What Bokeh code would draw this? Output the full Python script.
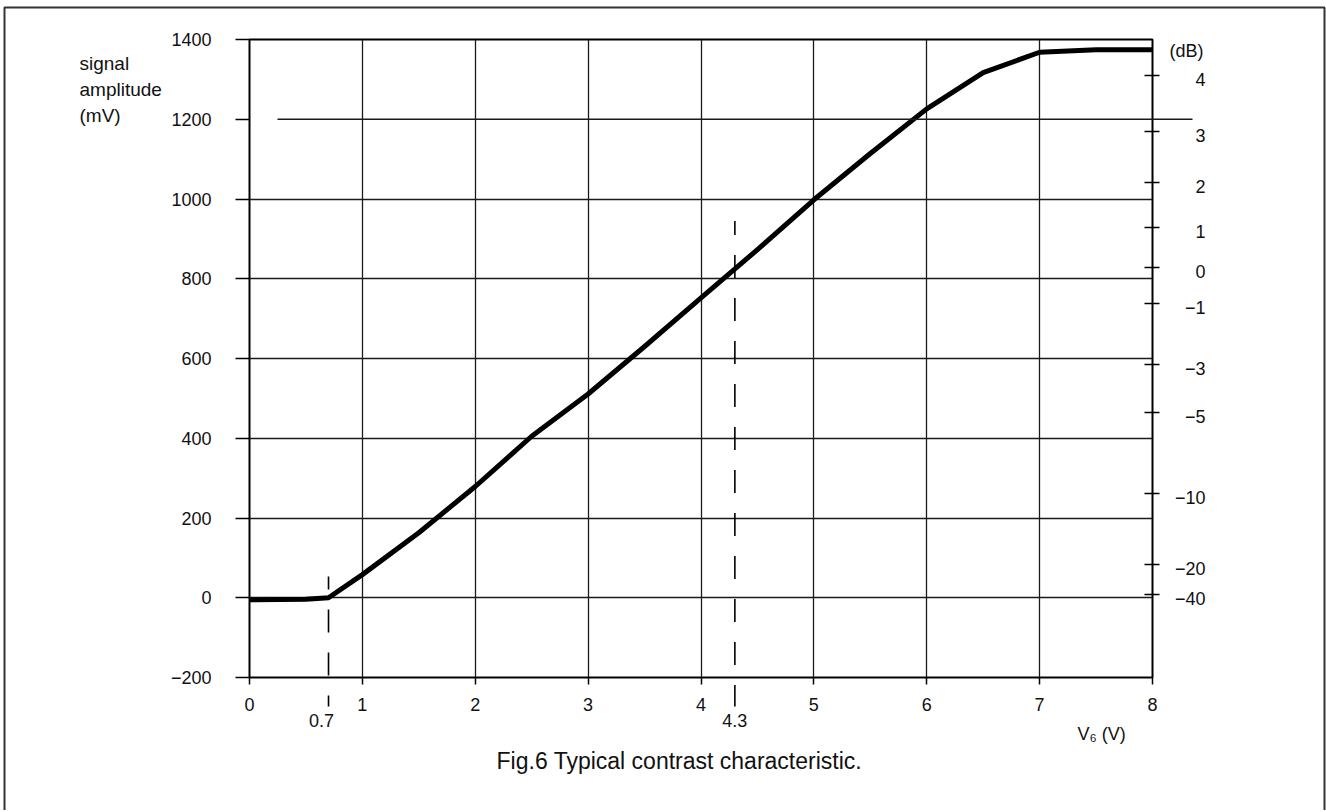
from bokeh.plotting import figure
from bokeh.models import Range1d, LinearAxis, FixedTicker
from bokeh.core.properties import value
from bokeh.embed import file_html
from bokeh.resources import INLINE

# ---- data ----
v6 = [0.0, 0.5, 0.7, 1.0, 1.5, 2.0, 2.5, 3.0, 3.5, 4.0, 4.5, 5.0, 5.5, 6.0, 6.5, 7.0, 7.5, 8.0]
amplitude_mv = [-5, -4, 0, 58, 163, 279, 405, 511, 630, 752, 873, 998, 1114, 1226, 1317, 1368, 1374, 1374]

x_ticks = [0, 1, 2, 3, 4, 5, 6, 7, 8]
x_grid = [1, 2, 3, 4, 5, 6, 7]
y_ticks = [-200, 0, 200, 400, 600, 800, 1000, 1200, 1400]
y_grid = [0, 200, 400, 600, 800, 1000]
db_ticks = [4, 3, 2, 1, 0, -1, -3, -5, -10, -20, -40]
db_ref_mv = 827          # amplitude that corresponds to 0 dB
marker_v = [0.7, 4.3]
marker_labels = ["0.7", "4.3"]
marker_top_mv = [53, 945]
ref_level_mv = 1200

FONT = "Liberation Sans"
FS = "18px"
TXT = "#111111"

# ---- layout (page pixels) ----
W, H = 1326, 810
FL, FT, FR, FB = 249, 39, 1152, 677   # frame edges on the page
X0, X1, Y0, Y1 = 0, 8, -200, 1400

def px2x(px):
    return X0 + (px - FL) / (FR - FL) * (X1 - X0)

def py2y(py):
    return Y1 - (py - FT) / (FB - FT) * (Y1 - Y0)

p = figure(width=W, height=H, x_range=Range1d(X0, X1), y_range=Range1d(Y0, Y1),
           output_backend="svg", toolbar_location=None,
           min_border_left=FL, min_border_top=FT,
           min_border_right=W - FR, min_border_bottom=H - FB)
p.background_fill_color = "white"
p.border_fill_color = "white"
p.outline_line_color = "black"
p.outline_line_width = 2

# grid
p.xgrid.ticker = FixedTicker(ticks=x_grid)
p.ygrid.ticker = FixedTicker(ticks=y_grid)
for g in (p.xgrid, p.ygrid):
    g.grid_line_color = "#1a1a1a"
    g.grid_line_width = 1.3
    g.grid_line_alpha = 1.0

# bottom axis
xa = p.xaxis[0]
xa.ticker = FixedTicker(ticks=x_ticks)
xa.axis_line_color = None
xa.major_tick_out = 7
xa.major_tick_in = 0
xa.minor_tick_line_color = None
xa.major_tick_line_color = "black"
xa.major_tick_line_width = 1.5
xa.major_label_standoff = 13
xa.major_label_text_font = FONT
xa.major_label_text_font_size = FS
xa.major_label_text_color = TXT

# left axis
ya = p.yaxis[0]
ya.ticker = FixedTicker(ticks=y_ticks)
ya.major_label_overrides = {t: (str(t).replace("-", "\u2212")) for t in y_ticks}
ya.axis_line_color = None
ya.major_tick_out = 14
ya.major_tick_in = 0
ya.minor_tick_line_color = None
ya.major_tick_line_color = "black"
ya.major_tick_line_width = 1.5
ya.major_label_standoff = 24
ya.major_label_text_font = FONT
ya.major_label_text_font_size = FS
ya.major_label_text_color = TXT

# right dB axis (ticks from the axis, labels right-aligned as text)
db_pos = [round(db_ref_mv * 10 ** (d / 20.0), 1) for d in db_ticks]
db_text = [str(d).replace("-", "\u2212") for d in db_ticks]
ra = LinearAxis(ticker=FixedTicker(ticks=db_pos),
                major_label_overrides={pos: "" for pos in db_pos})
ra.axis_line_color = None
ra.major_tick_out = 7
ra.major_tick_in = 8
ra.minor_tick_line_color = None
ra.major_tick_line_color = "black"
ra.major_tick_line_width = 1.5
ra.major_label_text_font_size = "1px"
p.add_layout(ra, "right")
p.text(x=[px2x(1205)] * len(db_pos), y=db_pos, text=db_text, y_offset=4,
       text_align="right", text_baseline="middle", text_font=value(FONT),
       text_font_size=value(FS), text_color=TXT, level="overlay")

# curve
p.line(v6, amplitude_mv, line_width=5, line_color="black", line_join="round", line_cap="butt")

# dashed markers (extend below the frame)
for mv, top in zip(marker_v, marker_top_mv):
    off = 10 if mv < 1 else 9
    p.segment(x0=[mv], y0=[top], x1=[mv], y1=[py2y(706)], line_color="black", line_width=1.6,
              line_dash="23 20", line_dash_offset=off, level="overlay")
p.text(x=marker_v, y=[py2y(720)] * len(marker_v), text=marker_labels, x_offset=[-7, 0],
       text_align="center", text_baseline="middle", text_font=value(FONT),
       text_font_size=value(FS), text_color=TXT, level="overlay")

# 1200 mV reference line (extends past the right axis)
p.segment(x0=[px2x(277)], y0=[ref_level_mv], x1=[px2x(1192)], y1=[ref_level_mv],
          line_color="#1a1a1a", line_width=1.3, level="overlay")

# axis titles
p.text(x=[px2x(79)] * 3, y=[py2y(63), py2y(89), py2y(115)], text=["signal", "amplitude", "(mV)"],
       text_align="left", text_baseline="middle", text_font=value(FONT),
       text_font_size=value("19px"), text_color=TXT, level="overlay")
p.text(x=[px2x(1203)], y=[py2y(50)], text=["(dB)"], text_align="right", text_baseline="middle",
       text_font=value(FONT), text_font_size=value(FS), text_color=TXT, level="overlay")
p.text(x=[px2x(1077)], y=[py2y(733)], text=["V\u2086 (V)"], text_align="left", text_baseline="middle",
       text_font=value(FONT), text_font_size=value(FS), text_color=TXT, level="overlay")

# caption
p.text(x=[px2x(868)], y=[py2y(760)], text=["Fig.6  Typical contrast characteristic."],
       text_align="right", text_baseline="alphabetic", text_font=value(FONT),
       text_font_size=value("23px"), text_color=TXT, level="overlay")

# outer border
p.quad(left=[px2x(4)], right=[px2x(1324)], top=[py2y(7)], bottom=[py2y(900)],
       fill_alpha=0, line_color="#333333", line_width=2, level="overlay")

open("out.html", "w").write(file_html(p, INLINE))
